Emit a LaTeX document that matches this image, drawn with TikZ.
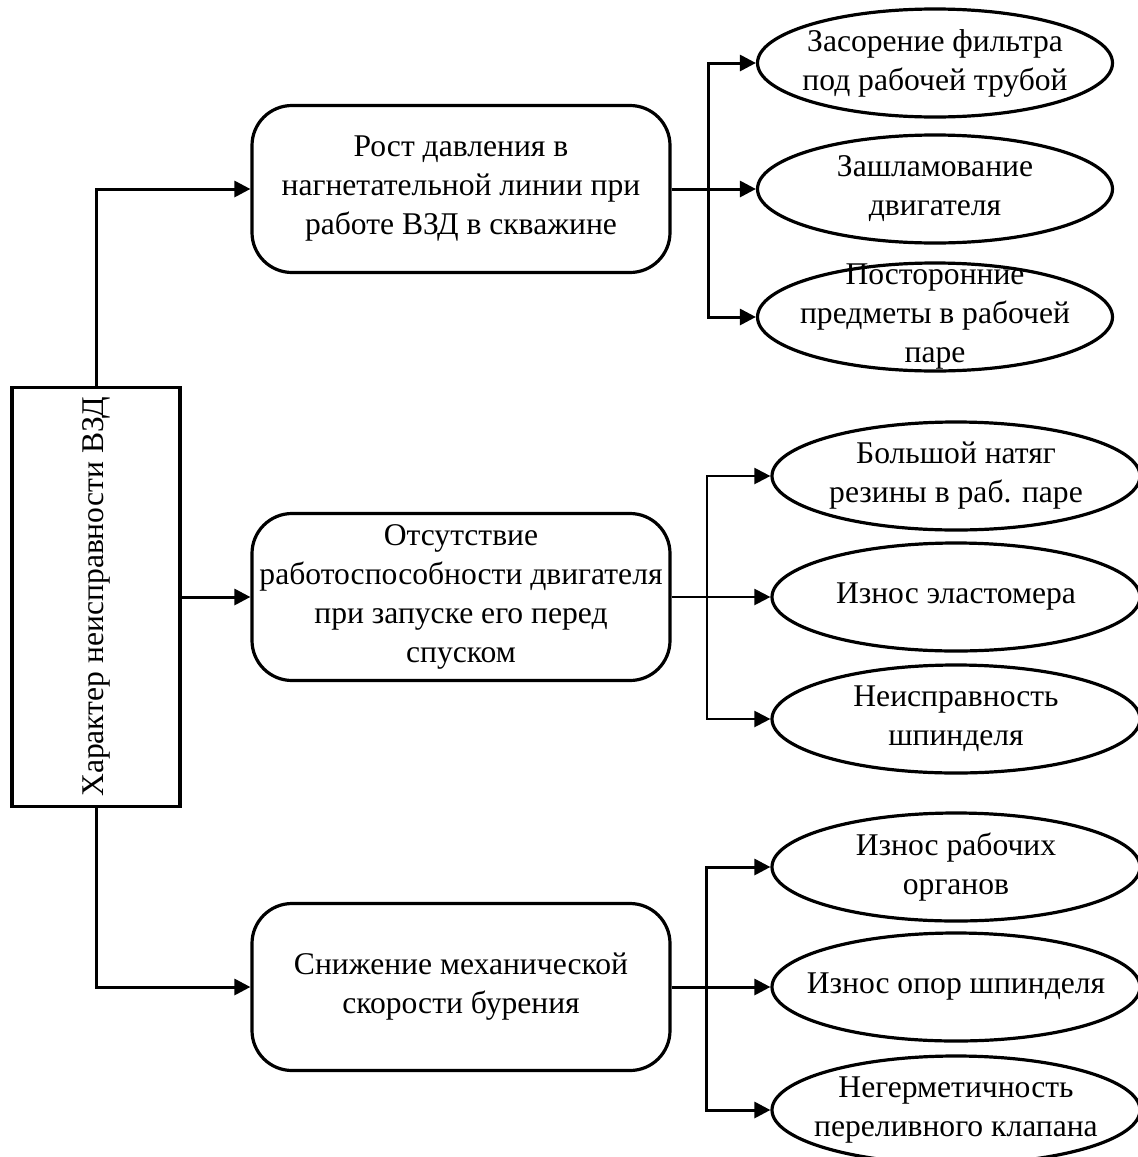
\documentclass[tikz,border=0pt]{standalone}
\usepackage{fontspec}
\setmainfont{Liberation Serif}
\usetikzlibrary{shapes.geometric,arrows.meta}
\begin{document}
\begin{tikzpicture}[x=0.5pt, y=-0.5pt,
        every node/.style={font=\fontsize{15.8}{19.5}\selectfont},
        box/.style={draw, line width=1.6pt, rounded corners=20pt, inner sep=2pt, minimum width=209pt, minimum height=83.5pt, align=center},
        cause/.style={draw, ellipse, line width=1.6pt, inner sep=0pt, minimum height=54pt},
        link/.style={line width=1.5pt, -{Triangle[length=8pt, width=8pt]}}]
            \useasboundingbox (0,0) rectangle (1137,1157);
            \node[draw, line width=1.6pt, minimum width=84pt, minimum height=209.5pt] (root) at (96,597) {};
            \node[rotate=90] (roottext) at (root.center) {Характер неисправности ВЗД};
            \node[box] (box1) at (461,189) {Рост давления в\\нагнетательной линии при\\работе ВЗД в скважине};
            \node[box] (box2) at (461,597) {Отсутствие\\работоспособности двигателя\\при запуске его перед\\спуском};
            \node[box] (box3) at (461,987) {Снижение механической\\скорости бурения};
            \draw[link] (root.north) |- (box1.west);
            \draw[link] (root.east) -- (box2.west);
            \draw[link] (root.south) |- (box3.west);
            \foreach \y/\txt [count = \i] in {63/{Засорение фильтра\\под рабочей трубой}, 189/{Зашламование\\двигателя}, 317/{Посторонние\\предметы в рабочей\\паре}}
                {
                    \node[cause, minimum width=177.5pt] (a\i) at (935,\y) {};
                    \node[align=center] (atext\i) at (a\i) {\txt};
                    \draw[link] (box1.east) -- ++(37,0) |- (a\i.west);
                }
            \foreach \y/\txt [count = \i] in {476/{Большой натяг\\резины в раб. паре}, 597/{Износ эластомера}, 719/{Неисправность\\шпинделя}}
                {
                    \node[cause, minimum width=184pt] (b\i) at (956,\y) {};
                    \node[align=center] (btext\i) at (b\i) {\txt};
                    \draw[link, line width=1.1pt] (box2.east) -- ++(35,0) |- (b\i.west);
                }
            \foreach \y/\txt [count = \i] in {867/{Износ рабочих\\органов}, 987/{Износ опор шпинделя}, 1110/{Негерметичность\\переливного клапана}}
                {
                    \node[cause, minimum width=184pt] (c\i) at (956,\y) {};
                    \node[align=center] (ctext\i) at (c\i) {\txt};
                    \draw[link] (box3.east) -- ++(35,0) |- (c\i.west);
                }
        \end{tikzpicture}
\end{document}
